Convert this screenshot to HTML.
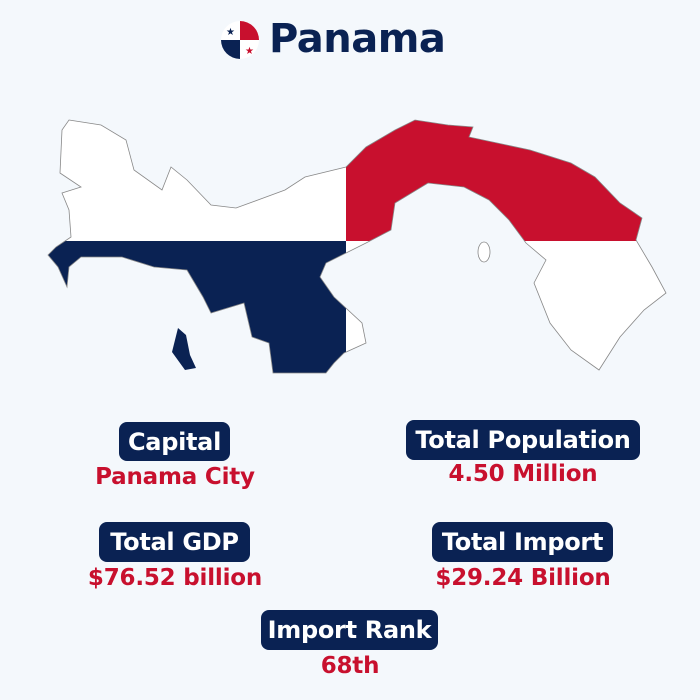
<!DOCTYPE html>
<html><head><meta charset="utf-8"><style>
body{margin:0;width:700px;height:700px;background:#F4F8FC;font-family:"DejaVu Sans","Liberation Sans",sans-serif;overflow:hidden;position:relative}
.pill{position:absolute;background:#0A2253;color:#fff;border-radius:8px;display:flex;align-items:center;justify-content:center;font-weight:bold;font-size:24px;letter-spacing:-0.3px;white-space:nowrap}
.val{position:absolute;color:#C8102E;font-weight:bold;font-size:23px;text-align:center;letter-spacing:-0.2px;line-height:28px}
</style></head><body>
<svg style="position:absolute;left:221px;top:21px" width="38" height="38" viewBox="0 0 38 38">
<defs><clipPath id="c"><circle cx="19" cy="19" r="19"/></clipPath></defs>
<g clip-path="url(#c)"><rect width="38" height="38" fill="#fff"/><rect x="19" y="0" width="19" height="19" fill="#C8102E"/><rect x="0" y="19" width="19" height="19" fill="#0A2253"/></g>
<text x="9.5" y="14" font-size="10" fill="#0A2253" text-anchor="middle">★</text>
<text x="28.5" y="33" font-size="10" fill="#C8102E" text-anchor="middle">★</text>
</svg>
<div style="position:absolute;left:269px;top:16px;font-size:40px;font-weight:bold;color:#0A2253;letter-spacing:-0.5px">Panama</div>
<svg style="position:absolute;left:0;top:0" width="700" height="400">
<defs><clipPath id="m"><path id="mp" d="M69,120 L101,125 L126,140 L134,170 L162,190 L171,167 L187,180 L211,205 L236,208 L285,190 L305,177 L346,167 L366,147 L395,130 L415,120 L448,125 L473,127 L469,137 L530,150 L571,163 L595,177 L620,203 L642,218 L636,240 L652,267 L666,293 L644,310 L620,337 L599,370 L571,350 L550,323 L534,283 L546,260 L526,243 L509,220 L489,200 L464,187 L428,183 L395,203 L391,230 L366,243 L346,253 L326,263 L320,277 L334,297 L362,323 L366,343 L344,353 L334,363 L326,373 L273,373 L269,343 L252,337 L244,303 L211,313 L203,297 L187,270 L154,267 L122,257 L81,257 L69,267 L67,287 L58,267 L48,255 L56,247 L71,237 L69,210 L62,193 L81,187 L60,173 L62,130 Z"/></clipPath></defs>
<g clip-path="url(#m)">
<rect x="40" y="100" width="640" height="300" fill="#fff"/>
<rect x="346" y="100" width="340" height="141" fill="#C8102E"/>
<rect x="40" y="241" width="306" height="160" fill="#0A2253"/>
</g>
<use href="#mp" fill="none" stroke="#888" stroke-width="0.8"/>
<path d="M178,328 L186,335 L190,355 L196,368 L185,370 L172,352 Z" fill="#0A2253"/>
<ellipse cx="484" cy="252" rx="6" ry="10" fill="#fff" stroke="#888" stroke-width="0.8"/>
</svg>
<div class="pill" style="left:119px;top:422px;width:111px;height:39px">Capital</div>
<div class="val" style="left:50px;top:463px;width:250px">Panama City</div>
<div class="pill" style="left:406px;top:420px;width:234px;height:40px">Total Population</div>
<div class="val" style="left:398px;top:460px;width:250px">4.50 Million</div>
<div class="pill" style="left:99px;top:522px;width:151px;height:40px">Total GDP</div>
<div class="val" style="left:50px;top:564px;width:250px">$76.52 billion</div>
<div class="pill" style="left:432px;top:522px;width:181px;height:40px">Total Import</div>
<div class="val" style="left:398px;top:564px;width:250px">$29.24 Billion</div>
<div class="pill" style="left:261px;top:610px;width:177px;height:40px">Import Rank</div>
<div class="val" style="left:225px;top:652px;width:250px">68th</div>
</body></html>
